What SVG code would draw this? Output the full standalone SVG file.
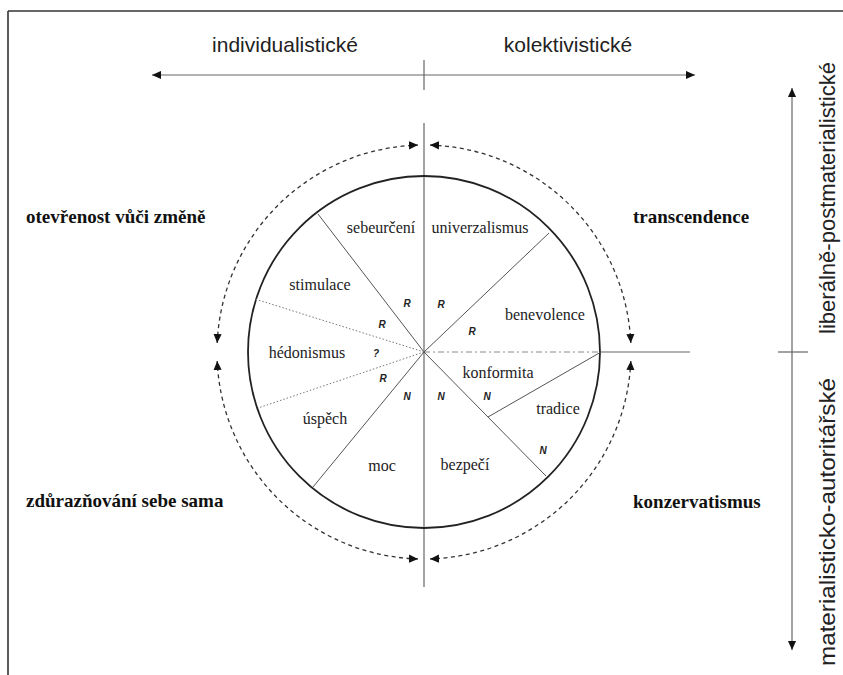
<svg xmlns="http://www.w3.org/2000/svg" width="843" height="675" viewBox="0 0 843 675">
<style>
.frame{stroke:#333;stroke-width:1.6;fill:none}
.axis{stroke:#666;stroke-width:1.2;fill:none}
.circ{stroke:#222;stroke-width:1.8;fill:none}
.spoke{stroke:#555;stroke-width:1;fill:none}
.dot{stroke:#777;stroke-width:1;stroke-dasharray:1.5 2;fill:none}
.dash{stroke:#888;stroke-width:1;stroke-dasharray:6 3 2 3;fill:none}
.arc{stroke:#333;stroke-width:1.3;stroke-dasharray:4 3.5;fill:none}
.sans{font-family:"Liberation Sans",Arial,sans-serif;font-size:21px;fill:#222}
.vert{font-family:"Liberation Sans",Arial,sans-serif;font-size:22px;fill:#222}
.inner{font-family:"Liberation Serif","Times New Roman",serif;font-size:16px;fill:#222;text-anchor:middle}
.outer{font-family:"Liberation Serif","Times New Roman",serif;font-size:19px;font-weight:bold;fill:#111}
.mk{font-family:"Liberation Sans",Arial,sans-serif;font-size:10px;font-weight:bold;font-style:italic;fill:#222;text-anchor:middle}
</style>
<defs>
<marker id="ah" viewBox="0 0 10 10" refX="10" refY="5" markerWidth="9" markerHeight="9" markerUnits="userSpaceOnUse" orient="auto-start-reverse">
<path d="M0,0.5 L10,5 L0,9.5 z" fill="#111"/>
</marker>
</defs>
<g id="frame">
<line class="frame" x1="8" y1="11" x2="843" y2="11"/>
<line class="frame" x1="8" y1="11" x2="8" y2="675"/>
</g>
<g id="connectors">
<line class="axis" x1="152" y1="75" x2="695" y2="75" marker-start="url(#ah)" marker-end="url(#ah)"/>
<line class="axis" x1="424" y1="60" x2="424" y2="90"/>
<line class="axis" x1="792" y1="88" x2="792" y2="650" marker-start="url(#ah)" marker-end="url(#ah)"/>
<line class="axis" x1="778" y1="352" x2="808" y2="352"/>
<line class="axis" x1="424" y1="123" x2="424" y2="587"/>
<line class="dash" x1="424" y1="352" x2="601" y2="352"/>
<line class="axis" x1="601" y1="352" x2="690" y2="352"/>
<path class="arc" d="M430,145.1 A207,207 0 0 1 630.8,343" marker-start="url(#ah)" marker-end="url(#ah)"/>
<path class="arc" d="M630.8,361 A207,207 0 0 1 430,558.9" marker-start="url(#ah)" marker-end="url(#ah)"/>
<path class="arc" d="M418,558.9 A207,207 0 0 1 217.2,361" marker-start="url(#ah)" marker-end="url(#ah)"/>
<path class="arc" d="M217.2,343 A207,207 0 0 1 418,145.1" marker-start="url(#ah)" marker-end="url(#ah)"/>
</g>
<g id="circle">
<circle class="circ" cx="424" cy="352" r="176"/>
<line class="spoke" x1="424" y1="352" x2="318" y2="214"/>
<line class="dot" x1="424" y1="352" x2="255" y2="299"/>
<line class="dot" x1="424" y1="352" x2="258" y2="408"/>
<line class="spoke" x1="424" y1="352" x2="313" y2="487"/>
<line class="spoke" x1="424" y1="352" x2="546" y2="476"/>
<line class="spoke" x1="488" y1="417" x2="601" y2="352"/>
<line class="spoke" x1="424" y1="352" x2="549" y2="233"/>
</g>
<g id="top-labels">
<text class="sans" x="285" y="52" text-anchor="middle">individualistické</text>
<text class="sans" x="568" y="52" text-anchor="middle">kolektivistické</text>
</g>
<g id="right-labels">
<text class="vert" transform="translate(835,198) rotate(-90)" text-anchor="middle" textLength="272" lengthAdjust="spacingAndGlyphs">liberálně-postmaterialistické</text>
<text class="vert" transform="translate(835,522) rotate(-90)" text-anchor="middle" textLength="288" lengthAdjust="spacingAndGlyphs">materialisticko-autoritářské</text>
</g>
<g id="sebeurceni"><text class="inner" x="381" y="233">sebeurčení</text></g>
<g id="univerzalismus"><text class="inner" x="480" y="233">univerzalismus</text></g>
<g id="stimulace"><text class="inner" x="320" y="290">stimulace</text></g>
<g id="benevolence"><text class="inner" x="545" y="320">benevolence</text></g>
<g id="hedonismus"><text class="inner" x="307" y="358">hédonismus</text></g>
<g id="konformita"><text class="inner" x="498" y="378">konformita</text></g>
<g id="tradice"><text class="inner" x="558" y="414">tradice</text></g>
<g id="uspech"><text class="inner" x="325" y="424">úspěch</text></g>
<g id="moc"><text class="inner" x="382" y="471">moc</text></g>
<g id="bezpeci"><text class="inner" x="465" y="470">bezpečí</text></g>
<g id="marks">
<text class="mk" x="407" y="307">R</text>
<text class="mk" x="382" y="328">R</text>
<text class="mk" x="376" y="357">?</text>
<text class="mk" x="383" y="382">R</text>
<text class="mk" x="407" y="400">N</text>
<text class="mk" x="441" y="308">R</text>
<text class="mk" x="472" y="335">R</text>
<text class="mk" x="441" y="400">N</text>
<text class="mk" x="487" y="400">N</text>
<text class="mk" x="543" y="454">N</text>
</g>
<g id="otevrenost"><text class="outer" x="26" y="223">otevřenost vůči změně</text></g>
<g id="zduraznovani"><text class="outer" x="26" y="507">zdůrazňování sebe sama</text></g>
<g id="transcendence"><text class="outer" x="633" y="223">transcendence</text></g>
<g id="konzervatismus"><text class="outer" x="633" y="508">konzervatismus</text></g>
</svg>
